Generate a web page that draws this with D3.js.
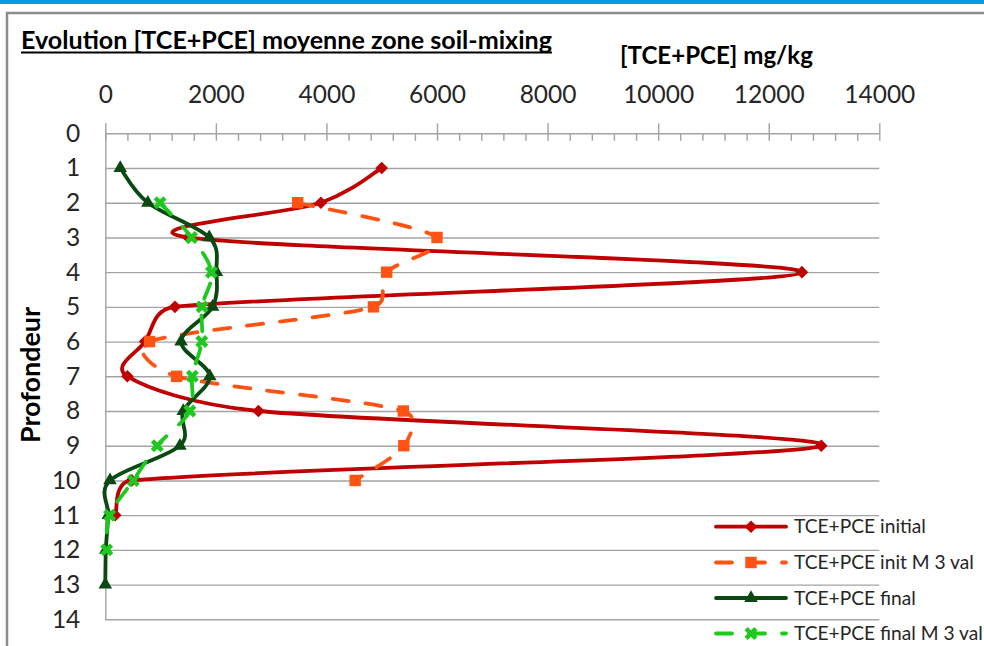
<!DOCTYPE html>
<html>
<head>
<meta charset="utf-8">
<script src="https://cdn.jsdelivr.net/npm/d3@7"></script>
<style>
  html, body { margin: 0; padding: 0; background: #fff; }
  svg { display: block; }
  text { font-family: Lato, "Noto Sans", sans-serif; }
</style>
</head>
<body>
<svg id="chart" width="984" height="646"></svg>
<script>
// ---------- data ----------
const titleText = "Evolution [TCE+PCE] moyenne zone soil-mixing";
const xAxisTitle = "[TCE+PCE] mg/kg";
const yAxisTitle = "Profondeur";
const xTicks = [0, 2000, 4000, 6000, 8000, 10000, 12000, 14000];
const yTicks = [0, 1, 2, 3, 4, 5, 6, 7, 8, 9, 10, 11, 12, 13, 14];

const seriesNames = ["TCE+PCE initial", "TCE+PCE init M 3 val", "TCE+PCE final", "TCE+PCE final M 3 val"];

const initialDepth = [1, 2, 3, 4, 5, 6, 7, 8, 9, 10, 11];
const initialVal   = [5000, 3900, 1500, 12600, 1260, 720, 400, 2770, 12950, 480, 180];

const initM3Depth = [2, 3, 4, 5, 6, 7, 8, 9, 10];
const initM3Val   = [3480, 6000, 5090, 4850, 800, 1290, 5390, 5400, 4520];

const finalDepth = [1, 2, 3, 4, 5, 6, 7, 8, 9, 10, 11, 12, 13];
const finalVal   = [270, 770, 1880, 2010, 1940, 1370, 1890, 1410, 1350, 85, 55, 10, 0];

const finalM3Depth = [2, 3, 4, 5, 6, 7, 8, 9, 10, 11, 12];
const finalM3Val   = [990, 1560, 1920, 1750, 1745, 1575, 1530, 940, 507, 80, 25];

// ---------- setup ----------
const svg = d3.select("#chart");
const x = d3.scaleLinear().domain([0, 14000]).range([105.3, 879.3]);
const y = d3.scaleLinear().domain([0, 14]).range([133.3, 619.3]);

const gridColor = "#a3a3a3";
const textColor = "#262626";

function fitWidth(sel, target) {
  const node = sel.node();
  const fs = parseFloat(sel.attr("font-size"));
  const w = node.getComputedTextLength();
  sel.attr("font-size", (fs * target / w).toFixed(2));
}

// frame
svg.append("rect").attr("x", 0).attr("y", 0).attr("width", 984).attr("height", 4).attr("fill", "#0a9be2");
svg.append("path").attr("d", "M7,646V13H984").attr("fill", "none").attr("stroke", "#8c8c8c").attr("stroke-width", 2.5);

// horizontal grid lines
const grid = svg.append("g")
  .attr("transform", `translate(${x.range()[0]},0)`)
  .call(d3.axisLeft(y).tickValues(yTicks.slice(1)).tickSize(-(x.range()[1] - x.range()[0])).tickFormat(""));
grid.select(".domain").remove();
grid.selectAll("line").attr("stroke", gridColor).attr("stroke-width", 1.4);

// y axis
const yAxis = svg.append("g")
  .attr("transform", `translate(${x.range()[0]},0)`)
  .call(d3.axisLeft(y).tickValues(yTicks).tickSize(0).tickPadding(25).tickFormat(d3.format("d")));
yAxis.select(".domain").attr("stroke", gridColor).attr("stroke-width", 1.4);
yAxis.selectAll("text").attr("font-size", 24.5).attr("fill", textColor).attr("font-family", "Lato, sans-serif");

// x axis (top): minor ticks inward
const minorTicks = d3.range(0, 14001, 400);
const xMinor = svg.append("g")
  .attr("transform", `translate(0,${y.range()[0]})`)
  .call(d3.axisBottom(x).tickValues(minorTicks).tickSize(7.5).tickSizeOuter(0).tickFormat(""));
xMinor.selectAll("line").attr("stroke", gridColor).attr("stroke-width", 1.4);
xMinor.select(".domain").attr("stroke", gridColor).attr("stroke-width", 1.4);

const xAxis = svg.append("g")
  .attr("transform", `translate(0,${y.range()[0]})`)
  .call(d3.axisTop(x).tickValues(xTicks).tickSize(10).tickSizeOuter(0).tickPadding(20).tickFormat(d3.format("d")));
xAxis.select(".domain").remove();
xAxis.selectAll("line").attr("stroke", gridColor).attr("stroke-width", 1.4);
xAxis.selectAll("text").attr("font-size", 24.5).attr("fill", textColor).attr("font-family", "Lato, sans-serif");

// titles
const title = svg.append("text").attr("x", 21).attr("y", 48.5)
  .attr("font-size", 24).attr("font-weight", "bold").attr("fill", "#000").text(titleText);
fitWidth(title, 531);
svg.append("line").attr("x1", 21).attr("x2", 21 + title.node().getComputedTextLength())
  .attr("y1", 52.5).attr("y2", 52.5).attr("stroke", "#000").attr("stroke-width", 1.8);

const xt = svg.append("text").attr("x", 620).attr("y", 63.5)
  .attr("font-size", 24).attr("font-weight", "bold").attr("fill", "#000").text(xAxisTitle);
fitWidth(xt, 193);

const yt = svg.append("text").attr("transform", "translate(40,375) rotate(-90)")
  .attr("text-anchor", "middle").attr("font-size", 24).attr("font-weight", "bold").attr("fill", "#000").text(yAxisTitle);
fitWidth(yt, 136);

// ---------- series ----------
const series = [
  { name: seriesNames[0], depth: initialDepth, val: initialVal, color: "#c00000", dash: null, marker: "diamond" },
  { name: seriesNames[1], depth: initM3Depth, val: initM3Val, color: "#ff5313", dash: "16,17", marker: "square" },
  { name: seriesNames[2], depth: finalDepth, val: finalVal, color: "#0a4a12", dash: null, marker: "triangle" },
  { name: seriesNames[3], depth: finalM3Depth, val: finalM3Val, color: "#1ec81e", dash: "16,17", marker: "x" }
];

function markerPath(kind) {
  if (kind === "diamond") return { d: d3.symbol(d3.symbolSquare, 80)(), rot: 45 };
  if (kind === "square") return { d: d3.symbol(d3.symbolSquare, 130)(), rot: 0 };
  if (kind === "triangle") return { d: d3.symbol(d3.symbolTriangle, 80)(), rot: 0 };
  return { d: d3.symbol(d3.symbolCross, 105)(), rot: 45 };
}

// Smoothed line in the style of a spreadsheet "smoothed line":
// Bezier segments with tangents parallel to P(i+1)-P(i-1), arm length capped at half the segment.
function smoothPath(p) {
  const path = d3.path();
  const n = p.length;
  const hyp = (a, b) => Math.hypot(b[0] - a[0], b[1] - a[1]);
  path.moveTo(p[0][0], p[0][1]);
  for (let i = 0; i < n - 1; i++) {
    const p0 = p[i - 1] || p[i];
    const p1 = p[i], p2 = p[i + 1];
    const p3 = p[i + 2] || p[i + 1];
    const d12 = hyp(p1, p2);
    const d02 = hyp(p0, p2) || 1;
    const d13 = hyp(p1, p3) || 1;
    const a1 = Math.min(d02 / 6, d12 / 2);
    const a2 = Math.min(d13 / 6, d12 / 2);
    const c1 = [p1[0] + (p2[0] - p0[0]) / d02 * a1, p1[1] + (p2[1] - p0[1]) / d02 * a1];
    const c2 = [p2[0] - (p3[0] - p1[0]) / d13 * a2, p2[1] - (p3[1] - p1[1]) / d13 * a2];
    path.bezierCurveTo(c1[0], c1[1], c2[0], c2[1], p2[0], p2[1]);
  }
  return path.toString();
}

series.forEach(s => {
  const pts = s.val.map((v, i) => [v, s.depth[i]]);
  const px = pts.map(d => [x(d[0]), y(d[1])]);
  const g = svg.append("g");
  g.append("path").attr("d", smoothPath(px)).attr("fill", "none")
    .attr("stroke", s.color).attr("stroke-width", 3.8)
    .attr("stroke-linecap", "round").attr("stroke-linejoin", "round")
    .attr("stroke-dasharray", s.dash);
  const m = markerPath(s.marker);
  g.selectAll("path.mk").data(pts).enter().append("path").attr("class", "mk")
    .attr("d", m.d).attr("fill", s.color)
    .attr("transform", d => `translate(${x(d[0])},${y(d[1])}) rotate(${m.rot})`);
});

// ---------- legend ----------
const legendY = [526.7, 562.5, 598, 633.5];
const lg = svg.append("g");
series.forEach((s, i) => {
  const ly = legendY[i];
  lg.append("line").attr("x1", 716).attr("x2", 786).attr("y1", ly).attr("y2", ly)
    .attr("stroke", s.color).attr("stroke-width", 3.8).attr("stroke-linecap", "round")
    .attr("stroke-dasharray", s.dash ? "16,17" : null);
  const m = markerPath(s.marker);
  lg.append("path").attr("d", m.d).attr("fill", s.color)
    .attr("transform", `translate(751,${ly}) rotate(${m.rot})`);
  const t = lg.append("text").attr("x", 794).attr("y", ly).attr("dy", "0.35em")
    .attr("font-size", 20).attr("fill", textColor).text(s.name);
  if (i === 0) fitWidth(t, 132);
  else t.attr("font-size", lg.select("text").attr("font-size"));
});
</script>
</body>
</html>
